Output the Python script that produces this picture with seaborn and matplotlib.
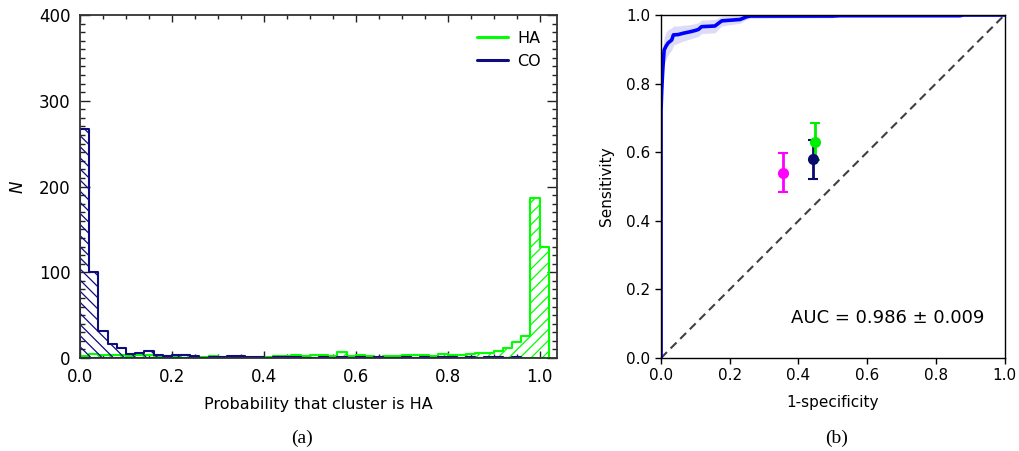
import numpy as np
import pandas as pd
import matplotlib
matplotlib.use("Agg")
import matplotlib.pyplot as plt
from matplotlib.lines import Line2D
from matplotlib.ticker import MultipleLocator
import seaborn as sns

# ---------------- data: panel (a) histogram ----------------
bin_width = 0.02
ha_counts = [2, 5, 3, 4, 3, 2, 3, 3, 2, 2,
             1, 3, 1, 1, 2, 1, 1, 1, 0, 1,
             1, 2, 2, 3, 2, 3, 3, 2, 7, 2,
             3, 2, 1, 2, 2, 3, 4, 3, 2, 5,
             4, 3, 5, 6, 6, 8, 12, 19, 26, 187,
             130]
co_counts = [267, 100, 31, 16, 12, 5, 6, 8, 3, 2,
             4, 3, 2, 0, 1, 1, 2, 2, 1, 1,
             0, 1, 1, 1, 0, 0, 1, 0, 1, 0,
             1, 0, 1, 0, 0, 1, 0, 1, 0, 1,
             1, 0, 1, 0, 1, 1, 0, 1]

# ---------------- data: panel (b) ROC ----------------
roc_fpr = [0.0, 0.0, 0.002, 0.005, 0.009, 0.015, 0.021, 0.031, 0.036, 0.05,
           0.065, 0.084, 0.1, 0.109, 0.118, 0.157, 0.17, 0.177, 0.23, 0.25,
           0.26, 0.5, 0.52, 0.87, 0.88, 1.0]
roc_tpr = [0.0, 0.72, 0.78, 0.84, 0.898, 0.91, 0.919, 0.927, 0.942, 0.943,
           0.947, 0.951, 0.955, 0.958, 0.966, 0.968, 0.978, 0.983, 0.987, 0.995,
           0.997, 0.997, 0.998, 0.998, 1.0, 1.0]
roc_lo = [0.0, 0.62, 0.70, 0.78, 0.855, 0.872, 0.885, 0.898, 0.912, 0.918,
          0.924, 0.93, 0.935, 0.938, 0.946, 0.948, 0.962, 0.968, 0.976, 0.988,
          0.99, 0.992, 0.995, 0.995, 1.0, 1.0]
roc_hi = [0.0, 0.82, 0.86, 0.9, 0.935, 0.95, 0.958, 0.962, 0.968, 0.968,
          0.97, 0.972, 0.975, 0.978, 0.985, 0.987, 0.993, 0.996, 0.998, 1.0,
          1.0, 1.0, 1.0, 1.0, 1.0, 1.0]
pt_labels = ["magenta", "navy", "green"]
pt_x = [0.356, 0.441, 0.448]
pt_y = [0.540, 0.579, 0.631]
pt_err = [0.057, 0.057, 0.055]
pt_colors = ["#ff00ff", "#0a0a6e", "#00ee00"]
auc_text = "AUC = 0.986 ± 0.009"

HA_COLOR = "#00ff00"
CO_COLOR = "#0d0d80"

sns.set_style("ticks")
plt.rcParams["font.family"] = ["DejaVu Sans"]
plt.rcParams["hatch.linewidth"] = 0.9
for k in ["text.color", "axes.labelcolor", "xtick.color", "ytick.color",
          "xtick.labelcolor", "ytick.labelcolor"]:
    plt.rcParams[k] = "black"

fig = plt.figure(figsize=(10.19, 4.51), dpi=100)
axA = fig.add_axes([0.0785, 0.2062, 0.4681, 0.7605])
axB = fig.add_axes([0.6487, 0.2062, 0.3371, 0.7605])

# ---------------- panel (a) ----------------
def hist_df(counts):
    edges = [round(i * bin_width, 4) for i in range(len(counts) + 1)]
    centers = [e + bin_width / 2 for e in edges[:-1]]
    return pd.DataFrame({"p": centers, "n": counts}), edges

df_ha, e_ha = hist_df(ha_counts)
df_co, e_co = hist_df(co_counts)

with plt.rc_context({"hatch.color": HA_COLOR}):
    sns.histplot(data=df_ha, x="p", weights="n", bins=e_ha, element="step",
                 fill=True, color=HA_COLOR, facecolor="none", edgecolor=HA_COLOR,
                 alpha=1, hatch="///", linewidth=1.5, ax=axA)
with plt.rc_context({"hatch.color": CO_COLOR}):
    sns.histplot(data=df_co, x="p", weights="n", bins=e_co, element="step",
                 fill=True, color=CO_COLOR, facecolor="none", edgecolor=CO_COLOR,
                 alpha=1, hatch="\\\\\\", linewidth=1.5, ax=axA)

axA.set_xlim(0, 1.038)
axA.set_ylim(0, 400)
axA.xaxis.set_major_locator(MultipleLocator(0.2))
axA.xaxis.set_minor_locator(MultipleLocator(0.05))
axA.yaxis.set_major_locator(MultipleLocator(100))
axA.yaxis.set_minor_locator(MultipleLocator(10))
axA.tick_params(which="both", direction="in", top=True, right=True,
                color="#222222", width=1.0)
axA.tick_params(axis="y", which="major", length=7)
axA.tick_params(axis="y", which="minor", length=3.6)
axA.tick_params(axis="x", which="major", length=5)
axA.tick_params(axis="x", which="minor", length=3)
axA.tick_params(which="major", labelsize=12, pad=7)
for s in axA.spines.values():
    s.set_color("#333333")
    s.set_linewidth(1.3)
axA.set_xlabel("Probability that cluster is HA", fontsize=11.5, labelpad=8)
axA.set_ylabel("N", fontsize=12, style="italic", labelpad=9)
handles = [Line2D([], [], color=HA_COLOR, lw=2.2), Line2D([], [], color=CO_COLOR, lw=2.2)]
axA.legend(handles, ["HA", "CO"], loc="upper right", frameon=False, fontsize=11.5,
           handlelength=1.9, handletextpad=0.6, borderaxespad=0.6, labelspacing=0.5)

# ---------------- panel (b) ----------------
axB.plot([0, 1], [0, 1], ls=(0, (4, 2.5)), color="#404040", lw=1.5)
axB.fill_between(roc_fpr, roc_lo, roc_hi, color="#dcdcf6", lw=0)
sns.lineplot(x=roc_fpr, y=roc_tpr, sort=False, estimator=None, color="#0000ff",
             lw=2.6, ax=axB)
for xx, yy, ee, cc in zip(pt_x, pt_y, pt_err, pt_colors):
    axB.errorbar(xx, yy, yerr=ee, fmt="o", color=cc, ms=7, capsize=3.5,
                 elinewidth=2, capthick=1.5)
axB.text(0.94, 0.117, auc_text, ha="right", va="center", fontsize=13)
axB.set_xlim(0, 1)
axB.set_ylim(0, 1)
axB.xaxis.set_major_locator(MultipleLocator(0.2))
axB.yaxis.set_major_locator(MultipleLocator(0.2))
axB.tick_params(labelsize=11, length=4, width=1, color="black")
for s in axB.spines.values():
    s.set_color("black")
    s.set_linewidth(1.0)
    s.set_visible(True)
axB.set_xlabel("1-specificity", fontsize=11, labelpad=8)
axB.set_ylabel("Sensitivity", fontsize=11, labelpad=9)

fig.text(0.296, 1 - 438 / 451, "(a)", family="Liberation Serif", fontsize=14,
         ha="center", va="center")
fig.text(0.8205, 1 - 438 / 451, "(b)", family="Liberation Serif", fontsize=14,
         ha="center", va="center")

fig.savefig("out.png", dpi=100)
